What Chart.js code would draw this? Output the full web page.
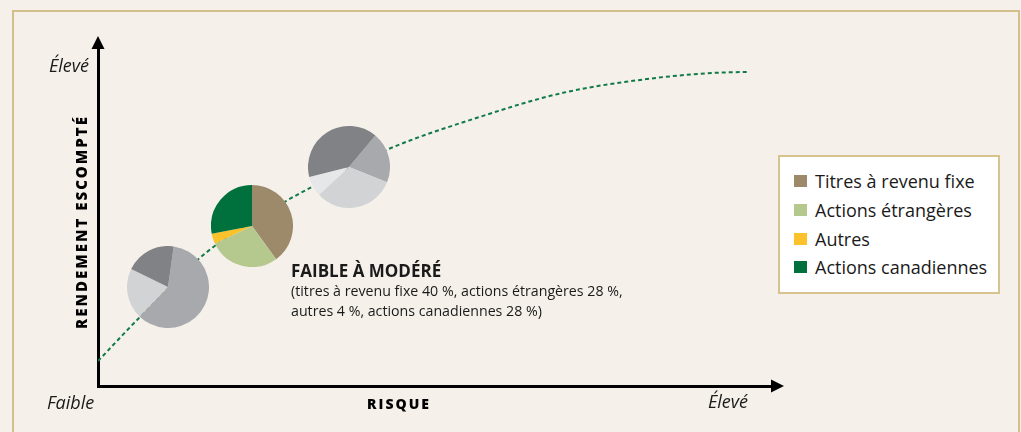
<!DOCTYPE html>
<html lang="fr">
<head>
<meta charset="utf-8">
<script src="https://cdn.jsdelivr.net/npm/chart.js@4/dist/chart.umd.min.js"></script>
<style>
  body { margin: 0; background: #f5f1ea; font-family: "Open Sans", sans-serif; color: #1a1a1a; }
  #wrap { position: relative; width: 1021px; height: 432px; overflow: hidden; }
  #cadre { position: absolute; left: 12px; top: 10px; width: 1008px; height: 440px; border: 2px solid #d3bf8a; box-sizing: border-box; }
  #graphe { position: absolute; left: 0; top: 0; }
  .lbl { position: absolute; white-space: nowrap; line-height: 1; }
  .it { font-style: italic; font-size: 18px; }
  .titre { font-weight: 800; font-size: 14px; color: #000; }
  #note { position: absolute; left: 291px; top: 261px; }
  #note b { display: block; font-size: 17px; line-height: 20px; }
  #note span { display: block; font-size: 14.2px; line-height: 20px; }
  #legende { position: absolute; left: 778px; top: 155px; width: 222px; height: 139px; background: #fff;
             border: 2px solid #d6c38d; box-sizing: border-box; padding: 10px 0 0 14px; }
  .item { display: flex; align-items: center; height: 28.7px; font-size: 18px; }
  .carre { width: 13px; height: 12px; margin-right: 8px; }
</style>
</head>
<body>
<div id="wrap">
  <div id="cadre"></div>
  <canvas id="graphe" width="1021" height="432"></canvas>
  <div class="lbl it" style="right:932px;top:56px">Élevé</div>
  <div class="lbl it" style="left:47px;top:393px">Faible</div>
  <div class="lbl it" style="left:708px;top:392px">Élevé</div>
  <div class="lbl titre" style="left:399px;top:404px;letter-spacing:2px;transform:translate(-50%,-50%)">RISQUE</div>
  <div class="lbl titre" style="left:81px;top:222px;font-size:15px;letter-spacing:2px;transform:translate(-50%,-50%) rotate(-90deg)">RENDEMENT ESCOMPTÉ</div>
  <div id="note">
    <b>FAIBLE À MODÉRÉ</b>
    <span>(titres à revenu fixe 40 %, actions étrangères 28 %,</span>
    <span>autres 4 %, actions canadiennes 28 %)</span>
  </div>
  <div id="legende"></div>
</div>
<script>
// Catégories des portefeuilles
var categories = ["Titres à revenu fixe", "Actions étrangères", "Autres", "Actions canadiennes"];
var couleurs = ["#9c8a6b", "#b5c98f", "#fcc22c", "#00703c"];
var gris = ["#a7a9ac", "#d1d3d4", "#e6e7e8", "#808285"];

// Répartition (%) de chaque profil
var profilFaible = [60, 20, 0, 20];
var profilModere = [40, 28, 4, 28];
var profilEleve = [20, 32, 8, 40];

// Position des profils sur l'axe risque / rendement (0 à 10)
var risqueProfils = [1.04, 2.29, 3.73];
var rendementProfils = [2.93, 4.76, 6.51];

// Courbe risque / rendement
var courbeRisque = [0, 0.62, 1.59, 2.78, 3.19, 4.29, 5.68, 6.91, 8.16, 9.14, 9.64];
var courbeRendement = [0.74, 2.04, 3.93, 5.47, 5.92, 7.01, 7.99, 8.70, 9.11, 9.29, 9.32];

// Flèches au bout des axes
const fleches = {
    id: 'fleches',
    afterDraw(chart) {
        const ctx = chart.ctx;
        const x = chart.scales.x, y = chart.scales.y;
        const x0 = x.getPixelForValue(0), xMax = x.getPixelForValue(10);
        const y0 = y.getPixelForValue(0), yMax = y.getPixelForValue(10);
        ctx.save();
        ctx.fillStyle = '#000';
        ctx.beginPath();
        ctx.moveTo(x0 - 6.5, yMax);
        ctx.lineTo(x0 + 6.5, yMax);
        ctx.lineTo(x0, yMax - 13);
        ctx.closePath();
        ctx.fill();
        ctx.beginPath();
        ctx.moveTo(xMax, y0 - 6.5);
        ctx.lineTo(xMax, y0 + 6.5);
        ctx.lineTo(xMax + 13, y0);
        ctx.closePath();
        ctx.fill();
        ctx.restore();
    }
};

function axe() {
    return {
        type: 'linear', min: 0, max: 10,
        grid: { display: false },
        ticks: { display: false },
        border: { display: true, color: '#000', width: 3 }
    };
}

var graphe = new Chart(document.getElementById('graphe'), {
    type: 'scatter',
    data: {
        datasets: [{
            data: courbeRisque.map((r, i) => ({ x: r, y: courbeRendement[i] })),
            showLine: true,
            pointRadius: 0,
            borderColor: '#117a48',
            borderWidth: 2,
            borderDash: [4, 3],
            cubicInterpolationMode: 'monotone'
        }]
    },
    options: {
        responsive: false,
        animation: false,
        layout: { padding: { left: 90, right: 250, top: 49, bottom: 38 } },
        scales: { x: axe(), y: axe() },
        plugins: { legend: { display: false }, tooltip: { enabled: false } }
    },
    plugins: [fleches]
});

// Les trois camemberts, placés avec les échelles du graphe principal
var profils = [
    { valeurs: profilFaible, couleurs: gris, rotation: 8 },
    { valeurs: profilModere, couleurs: couleurs, rotation: 0 },
    { valeurs: profilEleve, couleurs: gris, rotation: 40 }
];
var R = 41;
profils.forEach(function (p, i) {
    var cx = graphe.scales.x.getPixelForValue(risqueProfils[i]);
    var cy = graphe.scales.y.getPixelForValue(rendementProfils[i]);
    var c = document.createElement('canvas');
    c.width = 2 * R; c.height = 2 * R;
    c.style.position = 'absolute';
    c.style.left = (cx - R) + 'px';
    c.style.top = (cy - R) + 'px';
    document.getElementById('wrap').insertBefore(c, document.getElementById('note'));
    new Chart(c, {
        type: 'pie',
        data: {
            labels: categories,
            datasets: [{ data: p.valeurs, backgroundColor: p.couleurs, borderWidth: 0, hoverOffset: 0 }]
        },
        options: {
            responsive: false,
            animation: false,
            rotation: p.rotation,
            plugins: { legend: { display: false }, tooltip: { enabled: false } }
        }
    });
});

// Légende
var leg = document.getElementById('legende');
categories.forEach(function (nom, i) {
    var d = document.createElement('div');
    d.className = 'item';
    d.innerHTML = '<div class="carre" style="background:' + couleurs[i] + '"></div>' + nom;
    leg.appendChild(d);
});
</script>
</body>
</html>
